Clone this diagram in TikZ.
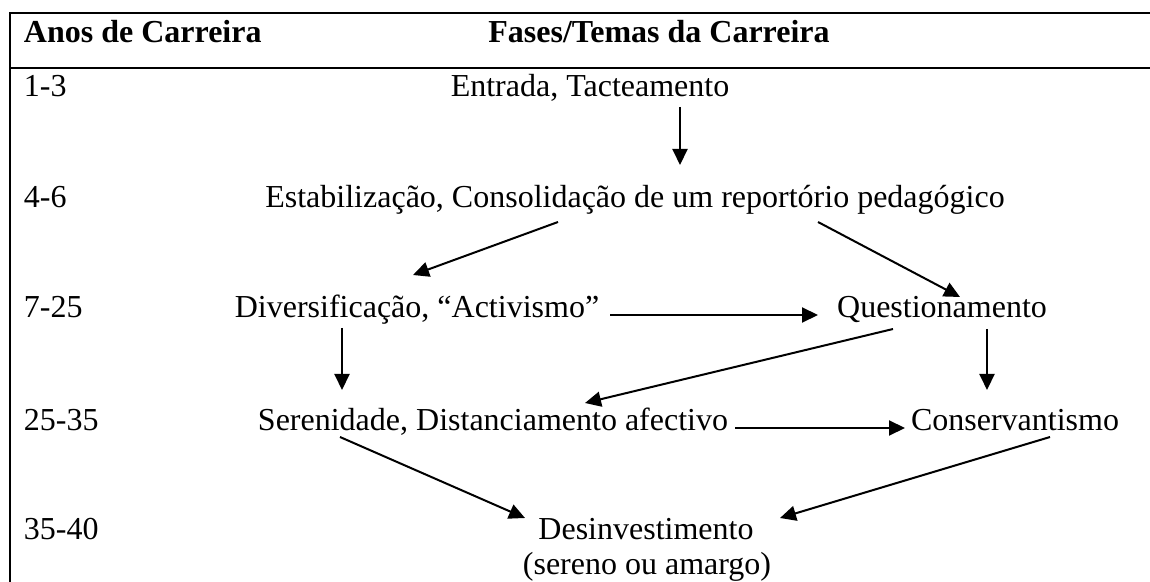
\documentclass[tikz,border=0pt]{standalone}
\usepackage{fontspec}
\setmainfont{Liberation Serif}
\usetikzlibrary{arrows.meta}
\begin{document}
\begin{tikzpicture}[x=0.5pt,y=-0.5pt,
  every node/.style={font=\fontsize{16}{18}\selectfont, inner sep=0pt, outer sep=0pt},
  txt/.style={anchor=base},
  lbl/.style={anchor=base west},
  hdr/.style={font=\fontsize{16}{18}\selectfont\bfseries},
  rule/.style={line width=1.1pt},
  conn/.style={line width=1pt, -{Triangle[length=8pt,width=7.5pt]}}]
\useasboundingbox (0,0) rectangle (1150,582);
% table lines
\coordinate (tl) at (10,13);
\coordinate (tr) at (1150,13);
\coordinate (hl) at (10,68);
\coordinate (hr) at (1150,68);
\coordinate (bl) at (10,582);
\draw[rule] (tr) -- (tl) -- (bl);
\draw[rule] (hl) -- (hr);
% header
\node[lbl,hdr] (h1) at (24,43) {Anos de Carreira};
\node[txt,hdr] (h2) at (659,43) {Fases/Temas da Carreira};
% row labels
\node[lbl] (r1) at (24,97) {1-3};
\node[lbl] (r2) at (24,208) {4-6};
\node[lbl] (r3) at (24,318) {7-25};
\node[lbl] (r4) at (24,430) {25-35};
\node[lbl] (r5) at (24,539) {35-40};
% phases
\node[txt] (ent) at (590,97) {Entrada, Tacteamento};
\node[txt] (est) at (635,208) {Estabilização, Consolidação de um reportório pedagógico};
\node[txt] (div) at (417,318) {Diversificação, “Activismo”};
\node[txt] (que) at (942,318) {Questionamento};
\node[txt] (ser) at (493,430) {Serenidade, Distanciamento afectivo};
\node[txt] (con) at (1015,430) {Conservantismo};
\node[txt] (des) at (646,539) {Desinvestimento};
\node[txt] (des2) at (647,574) {(sereno ou amargo)};
% arrow end points
\coordinate (a1s) at (680,107); \coordinate (a1e) at (680,165);
\coordinate (a2s) at (558,222); \coordinate (a2e) at (413,275);
\coordinate (a3s) at (818,222); \coordinate (a3e) at (960,297);
\coordinate (a4s) at (610,315); \coordinate (a4e) at (818,315);
\coordinate (a5s) at (342,328); \coordinate (a5e) at (342,390);
\coordinate (a6s) at (893,329); \coordinate (a6e) at (585,403);
\coordinate (a7s) at (987,329); \coordinate (a7e) at (987,390);
\coordinate (a8s) at (735,428); \coordinate (a8e) at (905,428);
\coordinate (a9s) at (340,437); \coordinate (a9e) at (525,518);
\coordinate (a10s) at (1050,437); \coordinate (a10e) at (780,518);
\draw[conn] (a1s) -- (a1e);
\draw[conn] (a2s) -- (a2e);
\draw[conn] (a3s) -- (a3e);
\draw[conn] (a4s) -- (a4e);
\draw[conn] (a5s) -- (a5e);
\draw[conn] (a6s) -- (a6e);
\draw[conn] (a7s) -- (a7e);
\draw[conn] (a8s) -- (a8e);
\draw[conn] (a9s) -- (a9e);
\draw[conn] (a10s) -- (a10e);
\end{tikzpicture}
\end{document}
